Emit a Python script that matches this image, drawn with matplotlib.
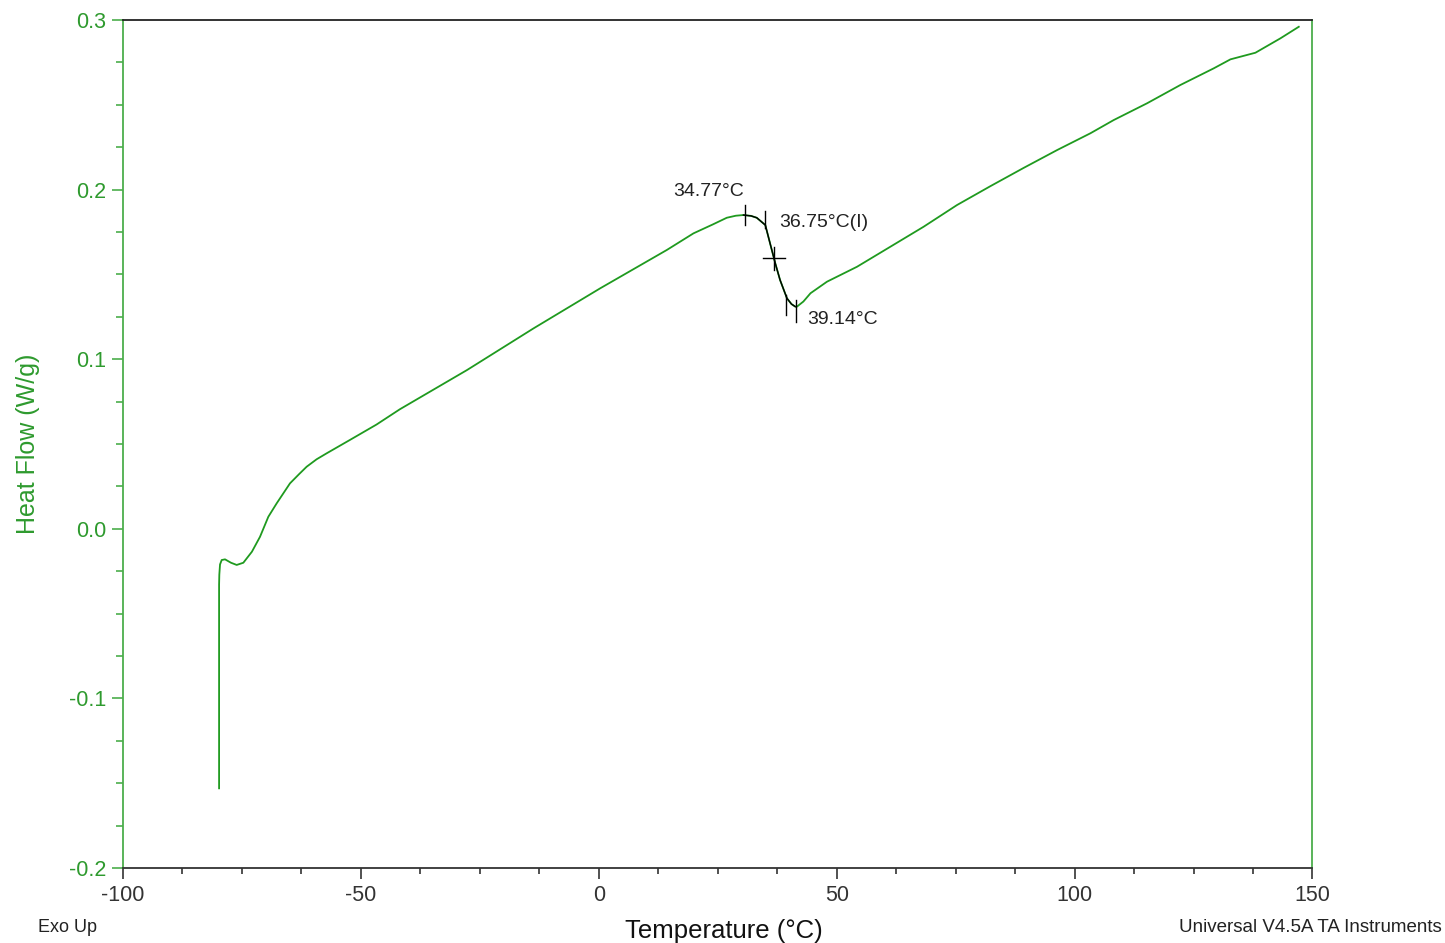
import matplotlib
matplotlib.use("Agg")
import matplotlib.pyplot as plt
from matplotlib.ticker import MultipleLocator

plt.rcParams['font.family'] = ['Liberation Sans', 'DejaVu Sans']
plt.rcParams['axes.unicode_minus'] = False

# DSC trace (temperature degC, heat flow W/g)
temp = [-79.8, -79.8, -79.75, -79.6, -79.25, -78.55, -77.3, -76.1, -74.7, -72.9,
        -71.2, -69.45, -67.7, -64.9, -63.0, -61.4, -59.3, -57.2, -52.3, -46.7,
        -41.8, -27.7, -13.7, 0.3, 14.3, 19.9, 24.0, 26.9, 28.8, 30.4,
        32.0, 33.2, 35.0, 36.0, 37.1, 38.1, 39.55, 40.5, 41.3, 41.65,
        43.0, 44.5, 47.96, 54.27, 61.27, 68.27, 75.29, 82.29, 89.3, 96.32,
        103.32, 108.22, 115.24, 122.25, 129.25, 132.76, 138.01, 143.27, 147.12]
heat = [-0.153, -0.033, -0.027, -0.021, -0.0184, -0.0180, -0.0200, -0.0213, -0.0200, -0.0135,
        -0.0047, 0.0071, 0.0150, 0.0268, 0.0322, 0.0366, 0.0410, 0.0445, 0.0524, 0.0615,
        0.0705, 0.0936, 0.1182, 0.1418, 0.1644, 0.1742, 0.1795, 0.1834, 0.1846, 0.1850,
        0.1845, 0.1834, 0.1791, 0.1683, 0.1565, 0.1467, 0.1359, 0.1325, 0.1310, 0.1310,
        0.1340, 0.1389, 0.1457, 0.1545, 0.1663, 0.1781, 0.1909, 0.2020, 0.2128, 0.2233,
        0.2332, 0.2410, 0.2509, 0.2617, 0.2715, 0.2768, 0.2807, 0.2892, 0.2960]

# analysis marks: onset, inflection, end
onset_x, onset_lbl = 30.8, "34.77°C"
infl_x, infl_y, infl_lbl = 36.9, 0.1598, "36.75°C(I)"
tick2_x = 35.0
end_x1, end_x2, end_lbl = 39.4, 41.4, "39.14°C"

green_line = '#1f9a1f'
green_axis = '#4cae4c'
green_text = '#2e9a2e'
dark = '#333333'

fig = plt.figure(figsize=(14.45, 9.43), dpi=100)
ax = fig.add_axes([0.0851, 0.0795, 0.8232, 0.8993])

ax.plot(temp, heat, color=green_line, lw=1.3)

# tangent / analysis construction in black
seg_x = [t for t in temp if onset_x - 0.5 <= t <= 41.4]
seg_y = [h for t, h in zip(temp, heat) if onset_x - 0.5 <= t <= 41.4]
ax.plot(seg_x, seg_y, color='black', lw=1.0)
ax.plot([onset_x, onset_x], [0.1791, 0.1909], color='black', lw=1.0)
ax.plot([tick2_x, tick2_x], [0.1774, 0.1876], color='black', lw=1.0)
ax.plot([34.6, 39.2], [infl_y, infl_y], color='black', lw=1.0)
ax.plot([infl_x, infl_x], [0.1526, 0.1663], color='black', lw=1.0)
ax.plot([end_x1, end_x1], [0.1263, 0.1381], color='black', lw=1.0)
ax.plot([end_x2, end_x2], [0.1220, 0.1351], color='black', lw=1.0)

ax.text(23.0, 0.1990, onset_lbl, fontsize=14, color='#222222', ha='center', va='center')
ax.text(38.0, 0.1805, infl_lbl, fontsize=14, color='#222222', ha='left', va='center')
ax.text(43.9, 0.1233, end_lbl, fontsize=14, color='#222222', ha='left', va='center')

ax.set_xlim(-100, 150)
ax.set_ylim(-0.2, 0.3)
ax.xaxis.set_major_locator(MultipleLocator(50))
ax.xaxis.set_minor_locator(MultipleLocator(12.5))
ax.set_yticks([-0.2, -0.1, 0.0, 0.1, 0.2, 0.3])
ax.set_yticklabels(['-0.2', '-0.1', '0.0', '0.1', '0.2', '0.3'])
ax.yaxis.set_minor_locator(MultipleLocator(0.025))

ax.tick_params(axis='x', which='major', direction='out', length=8, width=1.2,
               colors=dark, labelsize=15.5, pad=4)
ax.tick_params(axis='x', which='minor', direction='out', length=4, width=1.2, color=dark)
ax.tick_params(axis='y', which='major', direction='out', length=8, width=1.2,
               color=green_axis, labelcolor=green_text, labelsize=15.5, pad=4)
ax.tick_params(axis='y', which='minor', direction='out', length=5, width=1.2, color=green_axis)

ax.spines['left'].set_color(green_axis)
ax.spines['right'].set_color(green_axis)
ax.spines['top'].set_color('#222222')
ax.spines['bottom'].set_color(dark)
for s in ax.spines.values():
    s.set_linewidth(1.3)

ax.set_ylabel('Heat Flow (W/g)', fontsize=18, color=green_text, labelpad=21)
fig.text(0.501, 0.013, 'Temperature (°C)', fontsize=18.5, ha='center', va='center', color='#111111')
fig.text(0.026, 0.016, 'Exo Up', fontsize=13, ha='left', va='center', color='#222222')
fig.text(0.998, 0.016, 'Universal V4.5A TA Instruments', fontsize=13.5, ha='right', va='center',
         color='#222222')

fig.savefig('out.png', dpi=100)
